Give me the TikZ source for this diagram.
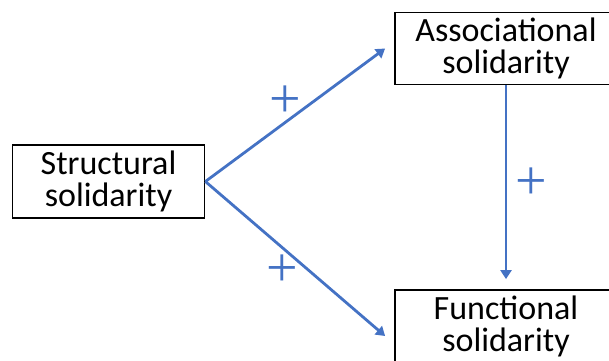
\documentclass[tikz,border=0pt]{standalone}
\usepackage{fontspec}
\setmainfont{Carlito}
\newfontfamily\signfont{Liberation Serif}
\usepackage{xcolor}
\usetikzlibrary{arrows.meta, positioning}
\definecolor{linkblue}{HTML}{4472C4}

\tikzset{
    concept/.style = {draw, line width = 1.8pt, align = center,
                      font = \fontsize{34}{32}\selectfont, inner sep = 0pt},
    link/.style = {draw = linkblue, line width = 2.8pt,
                   -{Triangle[length = 9pt, width = 11pt]}},
    sign/.style = {text = linkblue, font = \signfont\fontsize{56}{56}\selectfont, inner sep = 0pt}
}

\begin{document}
\begin{tikzpicture}[x = 1pt, y = -1pt]%{{{
                \useasboundingbox (0, 0) rectangle (609, 360);
                \clip (0, 0) rectangle (609, 360);

                \node (struct) [concept, minimum width = 192pt, minimum height = 73pt] at (108.5, 181.5) { Structural\\solidarity };
                \node (assoc) [concept, minimum width = 222pt, minimum height = 72pt] at (506, 48.5) { Associational\\solidarity };
                \node (func) [concept, minimum width = 222pt, minimum height = 72pt] at (506, 326) { Functional\\solidarity };

                \coordinate (associn) at ([xshift = -9pt] assoc.west);
                \coordinate (funcin) at ([xshift = -9pt, yshift = -10pt] func.west);

                \draw [link] (struct.east) -- (associn);
                \draw [link] (struct.east) -- (funcin);
                \draw [link] (assoc.south) -- ([yshift = 10pt] func.north);

                \node (plusa) [sign] at (285, 102) { + };
                \node (plusb) [sign] at (282, 271) { + };
                \node (plusc) [sign] at (531, 184) { + };
            \end{tikzpicture}
\end{document}
